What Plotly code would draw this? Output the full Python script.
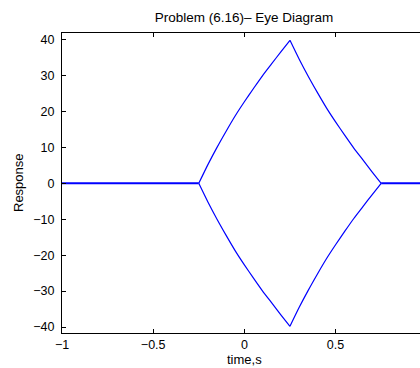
import plotly.graph_objects as go

# Eye diagram traces (time in s, response values)
t_rise = [-0.25, -0.20, -0.15, -0.10, -0.05, 0.00, 0.05, 0.10, 0.15, 0.20, 0.25]
v_rise = [0.0, 5.2, 10.0, 14.5, 18.8, 22.7, 26.4, 30.0, 33.3, 36.6, 39.8]
t_fall = [0.25, 0.30, 0.35, 0.40, 0.45, 0.50, 0.55, 0.60, 0.65, 0.70, 0.75]
v_fall = [39.8, 34.6, 29.8, 25.3, 21.0, 17.1, 13.4, 9.8, 6.5, 3.2, 0.0]
t_flat_left = [-1.0, -0.25]
t_flat_right = [0.75, 1.0]
v_flat = [0.0, 0.0]

x_ticks = [-1, -0.5, 0, 0.5, 1]
x_labels = ["\u22121", "\u22120.5", "0", "0.5", "1"]
y_ticks = [-40, -30, -20, -10, 0, 10, 20, 30, 40]

blue = "#0000FF"
fig = go.Figure()

for tt, vv in ((t_rise, v_rise), (t_fall, v_fall)):
    for sign in (1, -1):
        fig.add_trace(go.Scatter(x=tt, y=[sign * v for v in vv], mode="lines",
                                 line_shape="spline",
                                 line=dict(color=blue, width=1.2, smoothing=0.6),
                                 hoverinfo="skip"))
for tt in (t_flat_left, t_flat_right):
    fig.add_trace(go.Scatter(x=tt, y=v_flat, mode="lines",
                             line=dict(color=blue, width=2), hoverinfo="skip"))

fam = "Liberation Sans, Arial, Helvetica, sans-serif"
tick_font = dict(family=fam, size=12.5, color="black")
label_font = dict(family=fam, size=13, color="black")

L, T, B = 62, 33, 333  # plot area edges in pixels
W = 420 - L
H = B - T

fig.update_layout(
    width=420, height=368,
    margin=dict(l=L, r=0, t=T, b=368 - B),
    paper_bgcolor="white", plot_bgcolor="white",
    showlegend=False,
    font=tick_font,
    hovermode=False,
    title=dict(text="Problem (6.16)\u2013 Eye Diagram", x=244 / 420, xref="container",
               xanchor="center", y=1 - 17 / 368, yref="container", yanchor="middle",
               font=dict(family=fam, size=13.5, color="black")),
    xaxis=dict(range=[-1, 0.963], tickvals=x_ticks, ticktext=x_labels,
               ticks="inside", ticklen=4, tickcolor="black", tickwidth=1,
               showline=True, linecolor="black", linewidth=1, mirror="ticks",
               showgrid=False, zeroline=False, tickfont=tick_font),
    yaxis=dict(range=[-41.67, 41.84], tickvals=y_ticks,
               ticks="inside", ticklen=4, tickcolor="black", tickwidth=1,
               showline=True, linecolor="black", linewidth=1, mirror=False,
               showgrid=False, zeroline=False, tickfont=tick_font, ticklabelstandoff=4),
    annotations=[
        dict(text="time,s", x=(244 - L) / W, y=(B - 359) / H, xref="paper", yref="paper",
             showarrow=False, font=label_font, xanchor="center", yanchor="middle"),
        dict(text="Response", x=(18 - L) / W, y=(B - 183) / H, xref="paper", yref="paper",
             showarrow=False, font=label_font, textangle=-90, xanchor="center", yanchor="middle"),
    ],
)

fig.write_html("out.html", config={"displayModeBar": False, "staticPlot": True},
               post_script="document.body.style.margin='0';document.body.style.overflow='hidden';")
